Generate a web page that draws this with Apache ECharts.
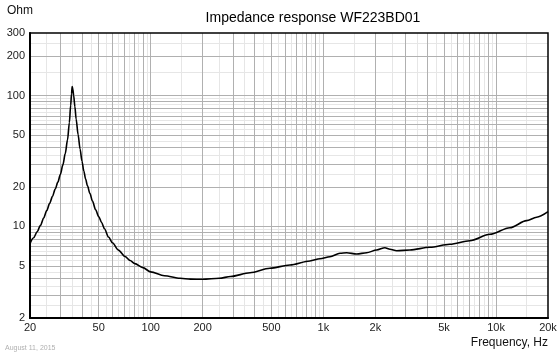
<!DOCTYPE html>
<html>
<head>
<meta charset="utf-8">
<script src="https://cdn.jsdelivr.net/npm/echarts@6/dist/echarts.min.js"></script>
<style>
html,body{margin:0;padding:0;background:#fff;}
#c{width:560px;height:356px;}
</style>
</head>
<body>
<div id="c"></div>
<script>
// ---- data ----
var freqHz = [20, 21, 22, 23, 24, 25, 26, 27, 28, 29, 30, 31, 32, 33, 33.8, 34.4, 34.8, 35.1, 35.4, 35.8, 36.4, 37, 38, 39, 40, 41, 42, 43, 44.5, 46, 48, 50, 52, 54, 57, 60, 65, 71, 76, 81, 90, 100, 120, 148, 170, 200, 250, 290, 376, 490, 640, 836, 955, 1092, 1248, 1365, 1559, 1781, 2035, 2273, 2430, 2657, 3172, 4141, 5408, 7059, 9217, 12030, 15030, 17180, 20000];
var impedanceOhm = [7.4, 8.2, 9.1, 10.2, 11.6, 13.2, 15, 17, 19.3, 21.8, 25, 29.5, 36, 46, 62, 84, 103, 117, 112, 100, 82, 66, 50, 39, 31.5, 26.5, 23, 20.5, 17.8, 15.6, 13.4, 11.9, 10.7, 9.6, 8.3, 7.5, 6.6, 5.9, 5.5, 5.2, 4.85, 4.5, 4.2, 4.02, 3.96, 3.95, 4.02, 4.15, 4.43, 4.79, 5.08, 5.45, 5.67, 5.87, 6.24, 6.3, 6.16, 6.3, 6.61, 6.88, 6.7, 6.53, 6.61, 6.93, 7.31, 7.78, 8.71, 9.78, 11.07, 11.75, 12.96];
var xTickLabels = [20, 50, 100, 200, 500, 1000, 2000, 5000, 10000, 20000];
var yTickLabels = [2, 5, 10, 20, 50, 100, 200, 300];
var xMin = 20, xMax = 20000, yMin = 2, yMax = 300;

// grid line positions (major at k*10^n, minor at (k+0.5)*10^n)
var majorMult = [1, 2, 3, 4, 5, 6, 7, 8, 9];
var minorMult = [1.5, 2.5, 3.5, 4.5, 5.5, 6.5, 7.5, 8.5, 9.5];
function gridVals(mults, lo, hi) {
  var out = [];
  for (var p = 0; p <= 5; p++) {
    mults.forEach(function (m) {
      var v = m * Math.pow(10, p);
      if (v > lo * 1.0001 && v < hi * 0.9999) out.push(v);
    });
  }
  return out;
}
var MINOR = { color: '#e6e6e6', width: 1, type: 'solid' };
var MAJOR = { color: '#b0b0b0', width: 1, type: 'solid' };
var lines = [];
gridVals(minorMult, xMin, xMax).forEach(function (v) { lines.push({ xAxis: v, lineStyle: MINOR }); });
gridVals(minorMult, yMin, yMax).forEach(function (v) { lines.push({ yAxis: v, lineStyle: MINOR }); });
gridVals(majorMult, xMin, xMax).forEach(function (v) { lines.push({ xAxis: v, lineStyle: MAJOR }); });
gridVals(majorMult, yMin, yMax).forEach(function (v) { lines.push({ yAxis: v, lineStyle: MAJOR }); });

function fmtHz(v) {
  v = Math.round(v);
  return v >= 1000 ? (v / 1000) + 'k' : String(v);
}

var chart = echarts.init(document.getElementById('c'), null, { renderer: 'canvas' });
var FONT = '"Liberation Sans", Arial, sans-serif';
chart.setOption({
  animation: false,
  backgroundColor: '#fff',
  textStyle: { fontFamily: FONT },
  grid: { left: 30, right: 12, top: 33, bottom: 38, show: true, borderColor: '#000', borderWidth: 1.5, backgroundColor: 'transparent', z: 20 },
  xAxis: {
    type: 'log', logBase: 10, min: xMin, max: xMax, z: 20,
    axisLine: { show: true, lineStyle: { color: '#000', width: 2 } },
    axisTick: { show: false },
    splitLine: { show: false },
    axisLabel: { customValues: xTickLabels, formatter: fmtHz, color: '#222', fontSize: 11, fontFamily: FONT, margin: 4 }
  },
  yAxis: {
    type: 'log', logBase: 10, min: yMin, max: yMax, z: 20,
    axisLine: { show: true, lineStyle: { color: '#000', width: 2 } },
    axisTick: { show: false },
    splitLine: { show: false },
    axisLabel: { customValues: yTickLabels, formatter: function (v) { return String(Math.round(v)); }, color: '#222', fontSize: 11, fontFamily: FONT, margin: 5 }
  },
  graphic: [
    { type: 'text', left: 7, top: 5, style: { text: 'Ohm', fontSize: 12, fontFamily: FONT, fill: '#111' } },
    { type: 'text', x: 313, y: 11, style: { text: 'Impedance response WF223BD01', fontSize: 14, fontFamily: FONT, fill: '#000', textAlign: 'center' } },
    { type: 'text', x: 548, y: 337, style: { text: 'Frequency, Hz', fontSize: 12, fontFamily: FONT, fill: '#111', textAlign: 'right' } },
    { type: 'text', x: 5, y: 345, style: { text: 'August 11, 2015', fontSize: 7, fontFamily: FONT, fill: '#b0b0b0' } }
  ],
  series: [
    {
      type: 'line', data: [], silent: true, z: 1,
      markLine: { silent: true, z: 1, symbol: ['none', 'none'], label: { show: false }, animation: false, data: lines }
    },
    {
      type: 'line', z: 10, silent: true,
      data: freqHz.map(function (f, i) { return [f, impedanceOhm[i]]; }),
      showSymbol: false, smooth: 0.3, smoothMonotone: 'x',
      lineStyle: { color: '#000', width: 1.6 }
    }
  ]
});
</script>
</body>
</html>
